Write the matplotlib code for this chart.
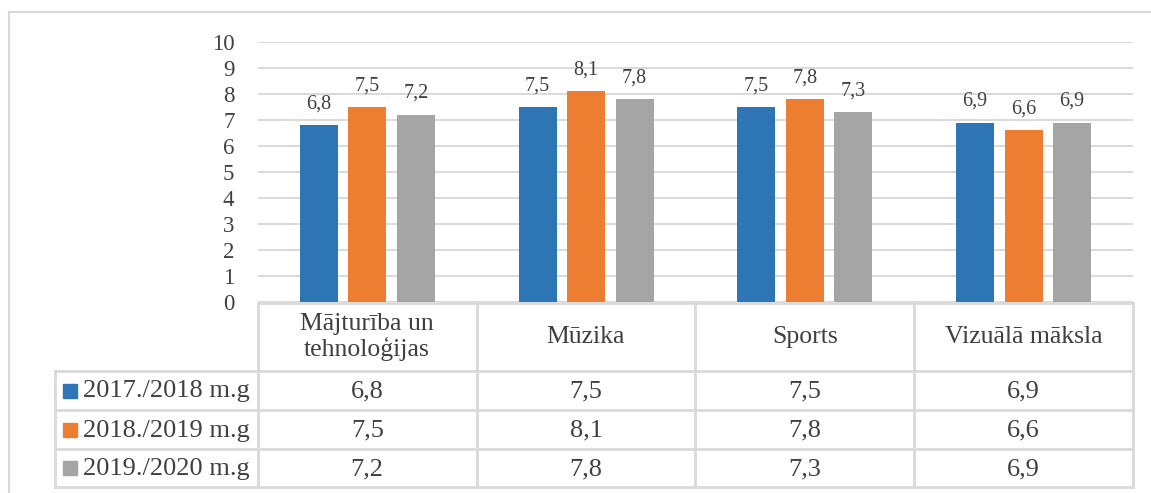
import matplotlib.pyplot as plt
import numpy as np

plt.rcParams['font.family'] = ['Liberation Serif', 'DejaVu Serif']

categories = ["Mājturība un\ntehnoloģijas", "Mūzika", "Sports", "Vizuālā māksla"]
series_names = ["2017./2018 m.g", "2018./2019 m.g", "2019./2020 m.g"]
v2018 = [6.8, 7.5, 7.5, 6.9]
v2019 = [7.5, 8.1, 7.8, 6.6]
v2020 = [7.2, 7.8, 7.3, 6.9]
colors = ["#2E75B6", "#ED7D31", "#A5A5A5"]

W, H = 1151, 493
fig = plt.figure(figsize=(W / 100, H / 100), dpi=100)

def px_rect(x0, y0, x1, y1):
    # pixel box (top-left origin) -> figure fraction rect
    return [x0 / W, 1 - y1 / H, (x1 - x0) / W, (y1 - y0) / H]

grid_c = "#d9d9d9"
text_c = "#404040"

# outer chart frame
fig.add_artist(plt.Line2D([9 / W, 1], [1 - 12 / H, 1 - 12 / H], color=grid_c, lw=1.5))
fig.add_artist(plt.Line2D([9 / W, 9 / W], [0, 1 - 12 / H], color=grid_c, lw=1.5))

ax = fig.add_axes(px_rect(258, 42, 1133, 302))
x = np.arange(len(categories))
bw = 0.1735
step = 0.2215
all_vals = [v2018, v2019, v2020]
for i, vals in enumerate(all_vals):
    bars = ax.bar(x + (i - 1) * step, vals, width=bw, color=colors[i], zorder=3)
    for b, v in zip(bars, vals):
        ax.annotate(str(v).replace(".", ","), (b.get_x() + b.get_width() / 2, v),
                    xytext=(0, 8.5), textcoords="offset points", ha="center", va="bottom",
                    fontsize=14.5, color=text_c)
ax.set_xlim(-0.5, 3.5)
ax.set_ylim(0, 10)
ax.set_yticks(range(0, 11))
ax.yaxis.grid(True, color=grid_c, lw=1.4, zorder=0)
ax.set_xticks([])
for s in ax.spines.values():
    s.set_visible(False)
ax.tick_params(axis="y", length=0, pad=17, labelsize=16.5, labelcolor=text_c)

# data table below the plot
tax = fig.add_axes(px_rect(55, 303, 1133, 487))
left = -0.5 - (258 - 55) / 219
tax.set_xlim(left, 3.5)
tax.set_ylim(0, 184)
tax.axis("off")
tax.invert_yaxis()
row_y = [0, 68, 107, 146, 184]
lc = dict(color=grid_c, lw=2, clip_on=False)
tax.plot([-0.5, 3.5], [row_y[0], row_y[0]], **lc)
for yy in row_y[1:]:
    tax.plot([left, 3.5], [yy, yy], **lc)
for xx in np.arange(-0.5, 3.6, 1):
    tax.plot([xx, xx], [0, 184], **lc)
tax.plot([left, left], [row_y[1], 184], **lc)

for j, c in enumerate(categories):
    tax.text(j, row_y[1] / 2, c, ha="center", va="center", fontsize=18.5,
             color=text_c, linespacing=1.05)
for i, vals in enumerate(all_vals):
    yc = (row_y[i + 1] + row_y[i + 2]) / 2
    tax.add_patch(plt.Rectangle((left + 8 / 219, yc - 7), 14 / 219, 14,
                                color=colors[i], clip_on=False))
    tax.text(left + 28 / 219, yc + 1, series_names[i], ha="left", va="center",
             fontsize=19, color=text_c)
    for j, v in enumerate(vals):
        tax.text(j, yc + 1, str(v).replace(".", ","), ha="center", va="center",
                 fontsize=19, color=text_c)

fig.savefig("out.png", dpi=100)
